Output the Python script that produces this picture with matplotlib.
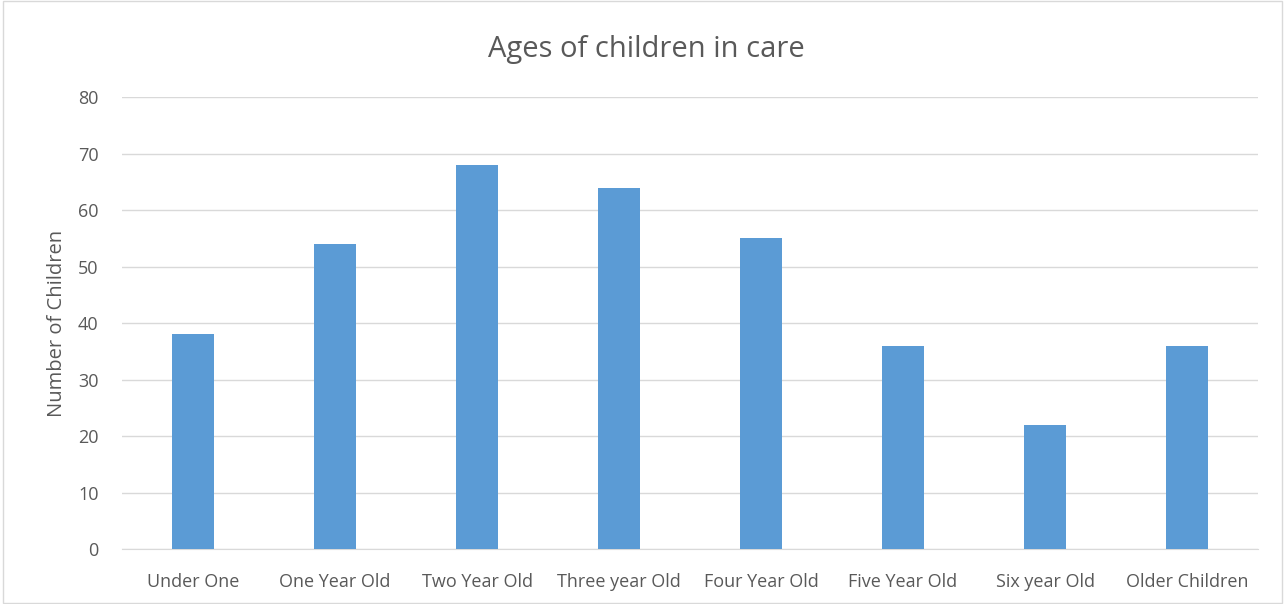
import matplotlib.pyplot as plt
import numpy as np

categories = ['Under One', 'One Year Old', 'Two Year Old', 'Three year Old',
              'Four Year Old', 'Five Year Old', 'Six year Old', 'Older Children']
counts = [38, 54, 68, 64, 55, 36, 22, 36]

plt.rcParams['font.family'] = ['Open Sans', 'DejaVu Sans']

fig = plt.figure(figsize=(12.85, 6.04), dpi=100)
ax = fig.add_axes([0.095, 0.091, 0.884, 0.748])

x = np.arange(len(categories))
ax.bar(x, counts, width=0.3, color='#5B9BD5', zorder=3)

ax.set_xlim(-0.5, len(categories) - 0.5)
ax.set_ylim(0, 80)
ax.set_yticks(range(0, 81, 10))
ax.set_xticks(x)
ax.set_xticklabels(categories)
ax.tick_params(axis='x', length=0, labelsize=13, colors='#595959', pad=17)
ax.tick_params(axis='y', length=0, labelsize=13, colors='#595959', pad=17)
ax.grid(axis='y', color='#D9D9D9', linewidth=1, zorder=0)
for s in ['top', 'right', 'left']:
    ax.spines[s].set_visible(False)
ax.spines['bottom'].set_color('#D9D9D9')

ax.set_ylabel('Number of Children', fontsize=14.5, color='#595959', labelpad=8)
fig.text(0.503, 0.918, 'Ages of children in care', ha='center', va='center',
         fontsize=21, color='#595959')

border = plt.Rectangle((0.002, 0.002), 0.996, 0.996, transform=fig.transFigure,
                       fill=False, edgecolor='#D9D9D9', linewidth=1)
fig.patches.append(border)

fig.savefig('out.png', dpi=100)
